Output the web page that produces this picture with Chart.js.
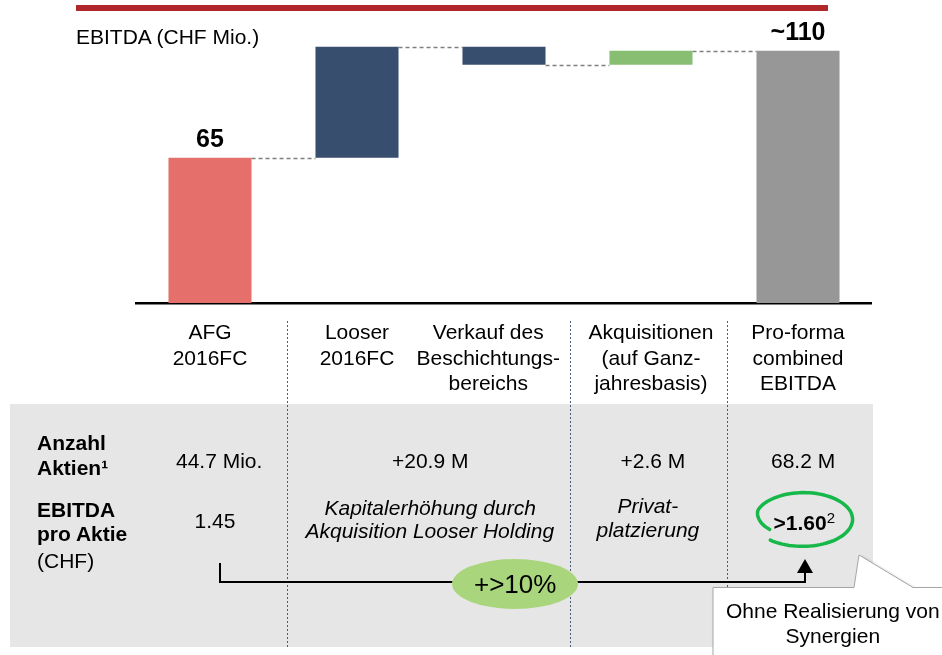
<!DOCTYPE html>
<html><head><meta charset="utf-8">
<script src="https://cdn.jsdelivr.net/npm/chart.js@4.4.0/dist/chart.umd.min.js"></script>
<style>
html,body{margin:0;padding:0;background:#fff;}
#wrap{position:relative;width:942px;height:655px;overflow:hidden;font-family:Arial,"Liberation Sans",sans-serif;color:#000;}
canvas{position:absolute;left:0;top:0;}
svg{position:absolute;left:0;top:0;}
.t{position:absolute;white-space:nowrap;}
</style></head><body>
<div id="wrap">
<canvas id="c" width="942" height="655"></canvas>
<svg id="deco" width="942" height="655" xmlns="http://www.w3.org/2000/svg">
  <defs>
    <filter id="sh" x="-20%" y="-20%" width="140%" height="140%">
      <feDropShadow dx="2" dy="2" stdDeviation="1.5" flood-color="#000" flood-opacity="0.35"/>
    </filter>
  </defs>
  <rect x="76" y="5" width="752" height="6" fill="#b0282c"/>
  <path d="M220 563 V582 H805 V572" fill="none" stroke="#000" stroke-width="2"/>
  <polygon points="797,573 813,573 805,559" fill="#000"/>
  <ellipse cx="515" cy="584" rx="63" ry="25" fill="#a9d67c"/>
  <path id="loop" fill="none" stroke="#17b84a" stroke-width="3.5" stroke-linecap="round"/>
  <path d="M713 587.5 H854 L859 555 L913 587.5 H990 V720 H713 Z" fill="#fff" stroke="#a6a6a6" stroke-width="1" filter="url(#sh)"/>
</svg>
<div id="texts"></div>
</div>
<script>
// ---- data ----
const categories = [
  ["AFG", "2016FC"],
  ["Looser", "2016FC"],
  ["Verkauf des", "Beschichtungs-", "bereichs"],
  ["Akquisitionen", "(auf Ganz-", "jahresbasis)"],
  ["Pro-forma", "combined", "EBITDA"]
];
const stepTypes = ["total", "delta", "delta", "delta", "total"];
const stepValues = [65, 49.7, -8, 6.3, 113];
const valueLabels = ["65", "", "", "", "~110"];
const barColors = ["#e5706b", "#384e6e", "#384e6e", "#88be72", "#979797"];

const sharesRow = ["44.7 Mio.", "+20.9 M", "+2.6 M", "68.2 M"];
const perShareRow = ["1.45", ["Kapitalerhöhung durch", "Akquisition Looser Holding"], ["Privat-", "platzierung"], ">1.60"];
const growthLabel = "+>10%";
const calloutText = ["Ohne Realisierung von", "Synergien"];

// ---- build floating bars ----
const floating = [];
const levels = [];
let run = 0;
stepValues.forEach((v, i) => {
  if (stepTypes[i] === "total") { floating.push([0, v]); run = v; }
  else { const s = run; run += v; floating.push([Math.min(s, run), Math.max(s, run)]); }
  levels.push(run);
});

const FONT = 'Arial, "Liberation Sans", sans-serif';
const dividerAfter = [0, 2, 3];
const dividerShift = [3, -8, 2];

const decor = {
  id: "decor",
  beforeDraw(chart) {
    const ctx = chart.ctx, x = chart.scales.x;
    ctx.save();
    ctx.fillStyle = "#e6e6e6";
    ctx.fillRect(10, 404, 863, 243);
    ctx.strokeStyle = "#4a5a78";
    ctx.lineWidth = 1;
    ctx.setLineDash([2, 2]);
    dividerAfter.forEach((i, k) => {
      const px = Math.round((x.getPixelForValue(i) + x.getPixelForValue(i + 1)) / 2 + dividerShift[k]) + 0.5;
      ctx.beginPath(); ctx.moveTo(px, 321); ctx.lineTo(px, 647); ctx.stroke();
    });
    ctx.restore();
  },
  afterDatasetsDraw(chart) {
    const ctx = chart.ctx, y = chart.scales.y;
    const bars = chart.getDatasetMeta(0).data;
    ctx.save();
    ctx.strokeStyle = "#7f7f7f";
    ctx.lineWidth = 1.5;
    ctx.setLineDash([4, 3]);
    for (let i = 0; i < bars.length - 1; i++) {
      const py = Math.round(y.getPixelForValue(levels[i])) + 0.5;
      ctx.beginPath();
      ctx.moveTo(bars[i].x + bars[i].width / 2, py);
      ctx.lineTo(bars[i + 1].x - bars[i + 1].width / 2, py);
      ctx.stroke();
    }
    ctx.setLineDash([]);
    ctx.fillStyle = "#000";
    ctx.font = "bold 25px " + FONT;
    ctx.textAlign = "center";
    ctx.textBaseline = "alphabetic";
    bars.forEach((b, i) => {
      if (valueLabels[i]) ctx.fillText(valueLabels[i], b.x, y.getPixelForValue(floating[i][1]) - 11);
    });
    ctx.restore();
  }
};

new Chart(document.getElementById("c"), {
  type: "bar",
  data: {
    labels: categories,
    datasets: [{ data: floating, backgroundColor: barColors, borderWidth: 0,
      categoryPercentage: 1, barPercentage: 0.565 }]
  },
  options: {
    responsive: false, animation: false,
    layout: { padding: { left: 136.5, right: 70.5, top: 35, bottom: 0 } },
    plugins: { legend: { display: false }, tooltip: { enabled: false } },
    scales: {
      x: {
        grid: { display: false, drawTicks: false },
        border: { display: true, color: "#000", width: 2.5 },
        ticks: {
          color: "#000", font: { family: FONT, size: 21, lineHeight: 1.2 }, padding: 18, maxRotation: 0, autoSkip: false,
          // the 3rd label sits slightly left of its bar in the reference
          callback: (v, i) => i === 2 ? categories[i].map(s => s + "\u2002\u2002\u2002") : categories[i]
        },
        afterFit(s) { s.height = 352; }
      },
      y: { display: false, min: 0, max: 120 }
    }
  },
  plugins: [decor]
});

// ---- hand-drawn loop ----
(function () {
  const cx = 803, cy = 519, rx = 48, ry = 26;
  const pts = [];
  for (let a = 150; a <= 492; a += 4) {
    const f = a < 200 ? 0.8 + (a - 150) / 50 * 0.2 : 1 + (a - 200) / 292 * 0.06;
    const r = a * Math.PI / 180;
    pts.push((cx + rx * f * Math.cos(r)).toFixed(1) + "," + (cy + ry * f * Math.sin(r)).toFixed(1));
  }
  document.getElementById("loop").setAttribute("d", "M" + pts.join(" L"));
})();

// ---- text overlay ----
const T = document.getElementById("texts");
function txt(s, x, baseline, opts) {
  opts = opts || {};
  const size = opts.size || 21;
  const d = document.createElement("div");
  d.className = "t";
  d.style.fontSize = size + "px";
  d.style.lineHeight = size + "px";
  if (opts.bold) d.style.fontWeight = "bold";
  if (opts.italic) d.style.fontStyle = "italic";
  d.style.top = (baseline - 0.8465 * size) + "px";
  d.innerHTML = s;
  T.appendChild(d);
  if (opts.center) { d.style.left = (x - d.offsetWidth / 2) + "px"; }
  else d.style.left = x + "px";
  return d;
}
txt("EBITDA (CHF Mio.)", 76, 44);
txt("Anzahl", 37, 450, { bold: true });
txt("Aktien¹", 37, 475, { bold: true });
txt("EBITDA", 37, 517, { bold: true });
txt("pro Aktie", 37, 541, { bold: true });
txt("(CHF)", 37, 568);
const colX = [219, 430, 653, 803];
sharesRow.forEach((s, i) => txt(s, colX[i], 468, { center: true }));
txt(perShareRow[0], 215, 528, { center: true });
txt(perShareRow[1][0], 430, 515, { center: true, italic: true });
txt(perShareRow[1][1], 430, 538, { center: true, italic: true });
txt(perShareRow[2][0], 648, 513, { center: true, italic: true });
txt(perShareRow[2][1], 648, 537, { center: true, italic: true });
txt(perShareRow[3] + '<sup style="font-size:15px;font-weight:normal;vertical-align:7px;line-height:0">2</sup>', 804, 530, { center: true, bold: true });
txt(growthLabel, 515, 593, { center: true, size: 26 });
txt(calloutText[0], 833, 618, { center: true });
txt(calloutText[1], 833, 643, { center: true });
</script>
</body></html>
